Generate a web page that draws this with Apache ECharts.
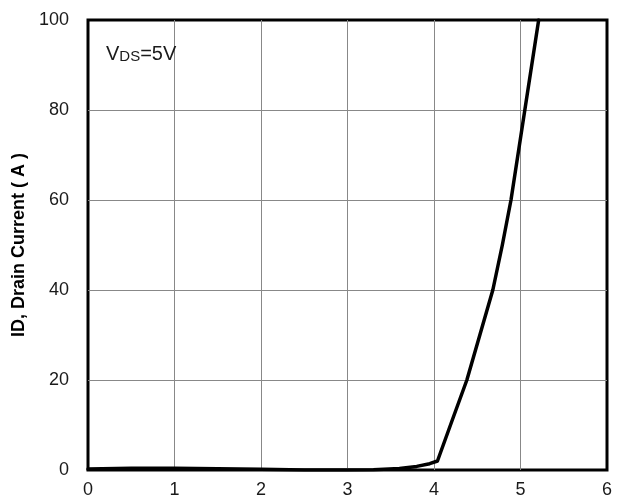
<!DOCTYPE html>
<html>
<head>
<meta charset="utf-8">
<script src="https://cdn.jsdelivr.net/npm/echarts@6/dist/echarts.min.js"></script>
<style>html,body{margin:0;padding:0;background:#fff}#c{width:627px;height:502px}</style>
</head>
<body>
<div id="c"></div>
<script>
// Gate voltage (V) and drain current (A)
const vgs = [0, 0.5, 1, 1.5, 2, 2.5, 3, 3.3, 3.6, 3.8, 3.95, 4.04, 4.2, 4.38, 4.53, 4.68, 4.79, 4.89, 4.97, 5.05, 5.13, 5.21];
const idA = [0.2, 0.4, 0.4, 0.3, 0.15, 0.0, 0.0, 0.05, 0.35, 0.8, 1.4, 2.0, 10.5, 20, 30, 40, 50, 60, 70, 80, 90, 100];
const xTicks = [0, 1, 2, 3, 4, 5, 6];
const yTicks = [0, 20, 40, 60, 80, 100];
const yName = 'ID, Drain Current ( A )';
const note = 'VDS=5V';

const chart = echarts.init(document.getElementById('c'), null, {renderer: 'canvas'});
const FONT = 'Liberation Sans, Arial, sans-serif';
chart.setOption({
  animation: false,
  backgroundColor: '#fff',
  grid: {left: 88, right: 20, top: 20, bottom: 32, show: true, borderColor: '#000', borderWidth: 3, backgroundColor: 'transparent'},
  xAxis: {
    type: 'value', min: xTicks[0], max: xTicks[xTicks.length - 1], interval: 1,
    axisLine: {show: false}, axisTick: {show: false},
    axisLabel: {fontSize: 18, color: '#1a1a1a', fontFamily: FONT, margin: 11},
    splitLine: {show: true, showMinLine: false, showMaxLine: false, lineStyle: {color: '#888', width: 1}}
  },
  yAxis: {
    type: 'value', min: yTicks[0], max: yTicks[yTicks.length - 1], interval: 20,
    name: yName, nameLocation: 'middle', nameGap: 44,
    nameTextStyle: {fontSize: 18, fontWeight: 'bold', color: '#000', fontFamily: FONT},
    axisLine: {show: false}, axisTick: {show: false},
    axisLabel: {fontSize: 18, color: '#1a1a1a', fontFamily: FONT, margin: 19},
    splitLine: {show: true, showMinLine: false, showMaxLine: false, lineStyle: {color: '#888', width: 1}}
  },
  graphic: [{
    type: 'text', x: 106, y: 44, z: 10,
    style: {
      text: '{a|V}{b|' + note.slice(1, 3) + '}{a|' + note.slice(3) + '}',
      rich: {
        a: {fontSize: 20, lineHeight: 20, verticalAlign: 'bottom', fontFamily: FONT, fill: '#1a1a1a'},
        b: {fontSize: 15, lineHeight: 15, verticalAlign: 'bottom', fontFamily: FONT, fill: '#1a1a1a'}
      }
    }
  }],
  series: [{
    type: 'line', data: vgs.map((v, i) => [v, idA[i]]),
    showSymbol: false, smooth: false, clip: true,
    lineStyle: {color: '#000', width: 3.5, join: 'round', cap: 'round'}
  }]
});
</script>
</body>
</html>
